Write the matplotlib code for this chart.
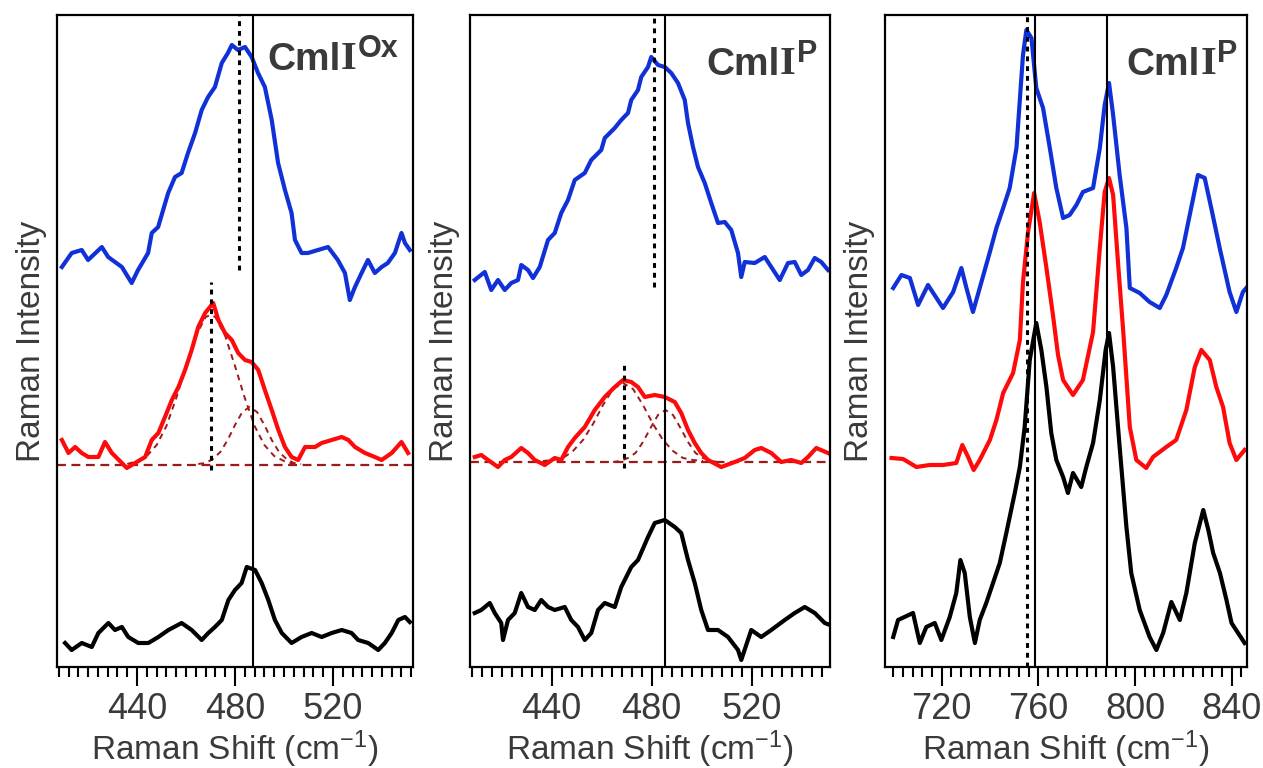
import matplotlib
matplotlib.use("Agg")
import matplotlib.pyplot as plt
from matplotlib.ticker import MultipleLocator

plt.rcParams['font.family'] = ['Liberation Sans', 'DejaVu Sans']
plt.rcParams['mathtext.default'] = 'regular'

# ---------------- Panel A (CmlI^Ox, 400-560 cm-1) ----------------
a_x_blue = [409.3, 413.3, 417.4, 420.0, 425.6, 428.2, 433.8, 437.8, 440.4, 444.5, 446.0, 448.6, 452.7, 455.5, 458.2, 460.8, 463.7, 466.4, 469.0, 471.8, 474.6, 477.1, 478.7, 481.2, 484.1, 486.8, 489.4, 492.2, 495.0, 497.6, 500.4, 503.1, 504.5, 507.2, 509.8, 513.9, 518.0, 522.0, 524.9, 526.9, 529.0, 531.7, 534.3, 537.1, 539.9, 542.4, 545.3, 548.0, 549.4, 551.4]
a_y_blue = [400, 414, 417, 407, 420, 410, 400, 384, 397, 414, 434, 440, 474, 490, 494, 514, 534, 557, 570, 580, 604, 614, 622, 617, 620, 610, 594, 580, 547, 504, 477, 454, 427, 414, 414, 417, 420, 407, 394, 367, 380, 394, 407, 394, 400, 404, 414, 434, 424, 417]
a_x_red = [409.3, 412.0, 414.7, 417.4, 420.1, 424.2, 426.9, 429.7, 433.8, 435.8, 439.2, 443.3, 446.0, 448.7, 451.4, 454.2, 456.9, 459.6, 462.3, 465.0, 467.8, 471.1, 473.2, 475.9, 478.7, 481.3, 484.1, 486.8, 489.5, 492.2, 495.0, 497.7, 500.4, 503.1, 505.8, 508.6, 512.7, 515.4, 519.5, 523.6, 526.3, 529.0, 533.1, 537.1, 539.9, 544.0, 548.0, 550.7]
a_y_red = [227, 214, 220, 214, 210, 210, 225, 214, 204, 199, 204, 210, 227, 234, 250, 267, 280, 297, 317, 340, 354, 364, 347, 334, 327, 314, 307, 305, 297, 277, 257, 237, 220, 210, 207, 220, 220, 224, 227, 230, 227, 220, 214, 210, 207, 214, 225, 214]
a_x_fit1 = [436, 440, 444, 448, 452, 456, 460, 464, 468, 470, 472, 476, 480, 484, 488, 492, 496, 500, 504]
a_y_fit1 = [203, 206, 211, 222, 241, 269, 301, 331, 350, 352, 350, 331, 301, 269, 241, 222, 211, 206, 203]
a_x_fit2 = [465, 468, 471, 474, 477, 480, 483, 486, 489, 492, 495, 498, 501, 504, 507]
a_y_fit2 = [203, 204, 208, 215, 227, 242, 255, 260, 255, 242, 227, 215, 208, 204, 203]
a_x_base = [407.3, 552.7]
a_y_base = [202, 202]
a_x_black = [410.6, 413.3, 417.4, 421.5, 424.2, 428.3, 431.0, 433.8, 436.4, 440.5, 444.6, 448.7, 452.8, 458.2, 462.3, 466.4, 469.1, 471.8, 474.6, 477.3, 480.0, 482.7, 484.8, 488.2, 490.9, 493.6, 496.3, 499.1, 503.1, 507.2, 511.3, 515.4, 519.5, 523.6, 527.6, 530.3, 534.4, 538.5, 541.2, 544.0, 546.7, 549.4, 551.4]
a_y_black = [24, 17, 24, 20, 34, 44, 37, 40, 30, 24, 24, 30, 37, 44, 37, 27, 34, 40, 47, 67, 77, 84, 100, 97, 84, 67, 47, 34, 24, 30, 34, 30, 34, 37, 34, 27, 24, 17, 24, 34, 47, 50, 45]
a_solid = [487.3]
a_dot_blue = (481.8, 397, 652)   # position, from, to
a_dot_red = (470.2, 197, 385)
a_xlim = (407.3, 552.7)

# ---------------- Panel B (CmlI^P, 400-560 cm-1) ----------------
b_x_blue = [409.2, 413.2, 415.8, 418.5, 421.2, 423.8, 426.5, 427.8, 430.5, 432.5, 435.2, 438.5, 441.2, 443.8, 446.5, 449.2, 453.2, 455.8, 459.8, 461.2, 465.2, 467.8, 470.5, 471.8, 474.5, 475.8, 478.5, 479.8, 482.5, 485.2, 487.8, 490.5, 493.2, 494.5, 496.5, 498.5, 501.2, 503.8, 506.5, 509.2, 511.8, 514.5, 515.8, 517.2, 521.2, 525.2, 527.8, 531.2, 534.5, 537.2, 539.8, 542.5, 545.2, 547.8, 550.5]
b_y_blue = [387, 395, 377, 387, 377, 384, 387, 402, 397, 389, 400, 427, 434, 454, 467, 487, 494, 507, 517, 529, 539, 547, 554, 567, 577, 590, 600, 610, 602, 600, 594, 584, 567, 544, 520, 500, 484, 464, 444, 445, 437, 414, 390, 405, 404, 410, 400, 387, 404, 405, 392, 397, 409, 405, 397]
b_x_red = [409.2, 411.8, 414.5, 418.5, 421.2, 423.8, 427.8, 430.5, 433.2, 437.2, 441.2, 443.8, 446.5, 449.2, 453.2, 457.2, 461.2, 465.2, 468.5, 471.8, 474.5, 477.2, 481.2, 485.2, 489.2, 491.8, 494.5, 497.2, 499.8, 502.5, 507.8, 513.2, 517.2, 521.2, 523.8, 527.8, 531.8, 535.8, 539.8, 542.5, 545.8, 550.5]
b_y_red = [210, 212, 207, 200, 207, 210, 219, 214, 207, 202, 209, 207, 220, 229, 240, 257, 270, 280, 287, 285, 280, 270, 272, 270, 265, 254, 237, 224, 214, 207, 200, 205, 209, 217, 219, 214, 205, 207, 204, 210, 219, 214]
b_x_fit1 = [436.5, 440.5, 444.5, 448.5, 452.5, 456.5, 460.5, 464.5, 468.5, 472.5, 476.5, 480.5, 484.5, 488.5, 492.5, 496.5, 500.5]
b_y_fit1 = [206, 207, 209, 216, 227, 243, 262, 278, 284, 278, 262, 243, 227, 216, 209, 207, 206]
b_x_fit2 = [464.5, 467.5, 470.5, 473.5, 476.5, 479.5, 482.5, 485.5, 488.5, 491.5, 494.5, 497.5, 500.5, 503.5, 506.5]
b_y_fit2 = [205, 206, 209, 214, 225, 239, 252, 257, 252, 239, 225, 214, 209, 206, 205]
b_x_base = [407.3, 551.3]
b_y_base = [205, 205]
b_x_black = [409.2, 411.8, 415.2, 417.2, 419.8, 420.5, 422.5, 425.2, 427.8, 430.5, 433.2, 435.8, 438.5, 441.2, 445.2, 447.8, 450.5, 453.2, 455.8, 458.5, 461.2, 465.2, 467.8, 471.8, 474.5, 478.5, 481.2, 485.2, 489.2, 491.8, 494.5, 497.2, 499.8, 502.5, 506.5, 510.5, 514.5, 515.8, 519.8, 523.8, 527.8, 533.2, 537.2, 541.2, 545.2, 549.2, 551.2]
b_y_black = [54, 57, 64, 54, 44, 27, 47, 54, 74, 60, 57, 67, 60, 57, 60, 47, 40, 27, 34, 57, 64, 60, 80, 100, 107, 130, 144, 147, 140, 134, 107, 84, 57, 37, 37, 30, 17, 7, 37, 30, 37, 47, 54, 60, 54, 44, 42]
b_solid = [485.1]
b_dot_blue = (480.8, 380, 652)
b_dot_red = (468.8, 199, 302)
b_xlim = (407.3, 551.3)

# ---------------- Panel C (CmlI^P, 700-850 cm-1) ----------------
c_x_blue = [699.9, 703.3, 706.8, 710.2, 714.3, 717.8, 720.5, 724.7, 728.1, 730.2, 732.9, 735.7, 739.9, 742.6, 745.4, 748.1, 750.9, 753.6, 755.0, 757.1, 759.1, 761.9, 764.7, 767.4, 770.2, 772.9, 775.7, 778.4, 782.6, 785.4, 787.4, 789.2, 790.9, 793.6, 796.4, 797.8, 801.9, 806.0, 810.2, 812.9, 817.0, 819.8, 822.6, 826.0, 828.8, 831.5, 835.0, 839.1, 841.9, 844.6, 846.0]
c_y_blue = [379, 392, 389, 362, 382, 369, 359, 375, 399, 379, 355, 379, 415, 439, 459, 479, 519, 612, 637, 629, 579, 559, 519, 479, 449, 452, 462, 475, 479, 519, 562, 584, 552, 492, 439, 379, 374, 365, 359, 372, 399, 419, 452, 492, 489, 459, 419, 375, 355, 375, 379]
c_x_red = [699.2, 704.0, 709.5, 715.0, 720.5, 726.0, 728.5, 730.9, 733.2, 735.7, 739.9, 742.6, 745.4, 749.5, 752.3, 753.6, 755.7, 758.2, 760.5, 763.3, 766.0, 768.1, 770.2, 774.3, 778.4, 782.6, 785.4, 787.4, 789.2, 790.9, 793.0, 795.1, 797.8, 800.5, 804.6, 807.4, 812.9, 817.0, 821.2, 824.7, 827.4, 830.9, 833.6, 836.4, 839.1, 841.9, 845.3]
c_y_red = [209, 208, 200, 202, 202, 204, 222, 210, 197, 207, 227, 247, 274, 294, 327, 385, 435, 474, 445, 399, 352, 312, 287, 272, 287, 335, 419, 475, 489, 472, 402, 335, 240, 207, 199, 210, 220, 227, 257, 300, 317, 307, 280, 260, 224, 207, 217]
c_x_black = [699.9, 701.9, 708.1, 710.9, 713.6, 717.1, 719.8, 723.3, 726.0, 727.7, 729.5, 731.6, 733.7, 735.7, 738.4, 741.2, 744.0, 746.7, 750.2, 752.3, 754.3, 756.4, 759.1, 761.2, 763.3, 765.3, 767.4, 770.2, 772.2, 774.3, 777.7, 779.8, 782.6, 785.4, 787.8, 789.2, 790.9, 793.6, 796.4, 798.4, 801.9, 806.0, 808.8, 811.6, 815.0, 818.5, 821.2, 824.7, 828.2, 830.3, 832.3, 835.1, 837.8, 839.9, 842.6, 845.3]
c_y_black = [30, 47, 54, 24, 40, 44, 27, 50, 74, 107, 94, 50, 24, 47, 64, 84, 104, 134, 174, 200, 240, 307, 344, 317, 280, 234, 207, 190, 174, 194, 180, 200, 224, 267, 317, 334, 300, 220, 140, 94, 57, 30, 17, 34, 65, 47, 74, 124, 157, 137, 114, 94, 67, 44, 34, 24]
c_solid = [758.5, 788.5]
c_dot = [755.3]
c_xlim = (696.5, 846.3)

a_ticks = [440, 480, 520]
b_ticks = [440, 480, 520]
c_ticks = [720, 760, 800, 840]
titles = [("Cml", "I", "Ox"), ("Cml", "I", "P"), ("Cml", "I", "P")]

YLIM = (0, 652)
BLUE = '#1030d8'
RED = '#ff0a0a'
FIT = '#9e1a1a'
TXT = '#3a3a3a'

fig = plt.figure(figsize=(12.63, 7.68), dpi=100)
W, H = 1263.0, 768.0
boxes = [(57, 413), (470, 830), (885, 1247)]
top_px, bot_px = 15, 667
axes = []
for (l, r) in boxes:
    ax = fig.add_axes([l / W, (H - bot_px) / H, (r - l) / W, (bot_px - top_px) / H])
    axes.append(ax)

LW = 3.0
dot_style = dict(color='black', lw=2.2, linestyle=(0, (1.6, 1.6)))

def style(ax, xlim, ticks, title, tx, ty):
    ax.set_xlim(*xlim)
    ax.set_ylim(*YLIM)
    ax.set_yticks([])
    ax.set_xticks(ticks)
    ax.xaxis.set_minor_locator(MultipleLocator(4))
    ax.tick_params(axis='x', which='major', direction='out', length=14, width=1.5,
                   labelsize=26, labelcolor=TXT, pad=4)
    ax.tick_params(axis='x', which='minor', direction='out', length=7, width=1.5)
    for s in ax.spines.values():
        s.set_linewidth(1.6)
    ax.set_xlabel("Raman Shift (cm$^{-1}$)", fontsize=24, color=TXT, labelpad=1)
    ax.set_ylabel("Raman Intensity", fontsize=24, color=TXT, labelpad=7)
    t1 = ax.text(tx, ty, title[0], transform=ax.transAxes, fontsize=28, fontweight='bold',
                 color=TXT, ha='left', va='baseline')
    t2 = ax.annotate(title[1], xy=(1, 0), xycoords=t1, fontsize=29, fontweight='bold',
                     family=['Liberation Serif', 'DejaVu Serif'], color=TXT, ha='left', va='bottom')
    ax.annotate(title[2], xy=(1, 1), xycoords=t2, xytext=(1, 5), textcoords='offset points',
                fontsize=22, fontweight='bold', color=TXT, ha='left', va='top')

# Panel A
ax = axes[0]
ax.plot(a_x_blue, a_y_blue, color=BLUE, lw=LW)
ax.plot(a_x_base, a_y_base, color=FIT, lw=1.6, linestyle=(0, (4, 2.5)))
ax.plot(a_x_fit1, a_y_fit1, color=FIT, lw=1.4, linestyle=(0, (3, 2.5)))
ax.plot(a_x_fit2, a_y_fit2, color=FIT, lw=1.4, linestyle=(0, (3, 2.5)))
ax.plot(a_x_red, a_y_red, color=RED, lw=LW)
ax.plot(a_x_black, a_y_black, color='black', lw=LW)
for xv in a_solid:
    ax.axvline(xv, color='black', lw=1.5)
ax.vlines(a_dot_blue[0], a_dot_blue[1], a_dot_blue[2], **dot_style)
ax.vlines(a_dot_red[0], a_dot_red[1], a_dot_red[2], **dot_style)
style(ax, a_xlim, a_ticks, titles[0], 0.59, 0.9156)

# Panel B
ax = axes[1]
ax.plot(b_x_blue, b_y_blue, color=BLUE, lw=LW)
ax.plot(b_x_base, b_y_base, color=FIT, lw=1.6, linestyle=(0, (4, 2.5)))
ax.plot(b_x_fit1, b_y_fit1, color=FIT, lw=1.4, linestyle=(0, (3, 2.5)))
ax.plot(b_x_fit2, b_y_fit2, color=FIT, lw=1.4, linestyle=(0, (3, 2.5)))
ax.plot(b_x_red, b_y_red, color=RED, lw=LW)
ax.plot(b_x_black, b_y_black, color='black', lw=LW)
for xv in b_solid:
    ax.axvline(xv, color='black', lw=1.5)
ax.vlines(b_dot_blue[0], b_dot_blue[1], b_dot_blue[2], **dot_style)
ax.vlines(b_dot_red[0], b_dot_red[1], b_dot_red[2], **dot_style)
style(ax, b_xlim, b_ticks, titles[1], 0.656, 0.908)

# Panel C
ax = axes[2]
ax.plot(c_x_blue, c_y_blue, color=BLUE, lw=LW)
ax.plot(c_x_red, c_y_red, color=RED, lw=LW)
ax.plot(c_x_black, c_y_black, color='black', lw=LW)
for xv in c_solid:
    ax.axvline(xv, color='black', lw=1.5)
for xv in c_dot:
    ax.axvline(xv, **dot_style)
style(ax, c_xlim, c_ticks, titles[2], 0.668, 0.908)

fig.savefig("out.png", dpi=100)
